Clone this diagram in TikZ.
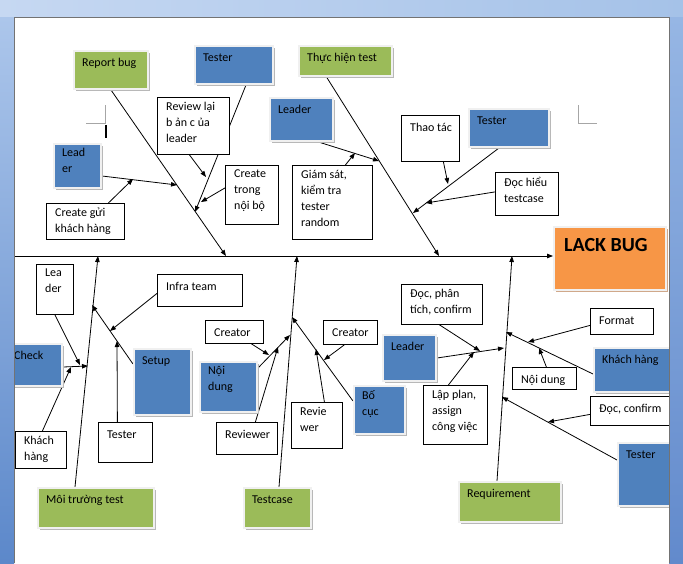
\documentclass[tikz,border=0pt]{standalone}
\usepackage{fontspec}
\setmainfont{Carlito}
\usetikzlibrary{arrows.meta, shadows}
\definecolor{wordblue}{RGB}{79,129,189}
\definecolor{wordgreen}{RGB}{155,187,89}
\definecolor{wordorange}{RGB}{247,150,70}
\definecolor{tanshadow}{RGB}{208,168,138}
\pgfdeclarelayer{paper}
\pgfdeclarelayer{lines}
\pgfsetlayers{paper,lines,main}

\begin{document}
\begin{tikzpicture}[x=1pt, y=-1pt, font=\fontsize{12}{16}\selectfont]

      \tikzset{
        sz/.style 2 args={minimum width=#1pt, minimum height=#2pt},
        bluebox/.style={draw=black!6, line width=2pt, fill=wordblue, inner sep=0pt, anchor=north west,
          general shadow={fill=black!28, shadow xshift=2pt, shadow yshift=-2pt}},
        greenbox/.style={bluebox, fill=wordgreen},
        orangebox/.style={draw=black!6, line width=2pt, fill=wordorange, inner sep=0pt, anchor=north west,
          general shadow={fill=tanshadow, shadow xshift=2pt, shadow yshift=-2pt}},
        wbox/.style={draw, line width=0.8pt, fill=white, inner sep=0pt, anchor=north west},
        txt/.style={anchor=north west, inner sep=0pt, align=left, xshift=9pt, yshift=-5pt,
          execute at begin node=\strut},
        arr/.style={-{Triangle[length=6pt, width=4.5pt]}, line width=0.8pt}}

      \useasboundingbox (0,0) rectangle (683,563);
      \begin{pgfonlayer}{paper}
        \fill[white] (14,17) rectangle (669,563);
      \end{pgfonlayer}
      % page marks
      \draw[black!35, line width=0.6pt] (86,123) -- (105,123) -- (105,105);
      \draw[black!35, line width=0.6pt] (578,105) -- (578,123) -- (597,123);
      \draw[line width=1.4pt] (106,125) -- (106,138);

%% Main causes
      	\node[greenbox, sz={74}{38}, label={[txt]north west:Report bug}] (rep) at (73,50) {};
      	\node[greenbox, sz={93}{30}, label={[txt]north west:Thực hiện test}] (exec) at (298,45) {};
      	\node[greenbox, sz={116}{40}, label={[txt]north west:Môi trường test}] (env) at (37,487) {};
      	\node[greenbox, sz={67}{40}, label={[txt]north west:Testcase}] (tcase) at (243,487) {};
      	\node[greenbox, sz={102}{40}, label={[txt]north west:Requirement}] (req) at (458,481) {};
      	\node[orangebox, sz={112}{63}, label={[txt, font=\fontsize{20}{24}\selectfont\bfseries, xshift=2pt, yshift=-3pt]north west:LACK BUG}] (bug) at (553,226) {};
%% Roles
      	\node[bluebox, sz={78}{38}, label={[txt]north west:Tester}] (tst1) at (194,45) {};
      	\node[bluebox, sz={47}{44}, label={[txt]north west:{Lead\\er}}] (lead1) at (53,143) {};
      	\node[bluebox, sz={63}{43}, label={[txt]north west:Leader}] (lead2) at (269,97) {};
      	\node[bluebox, sz={80}{38}, label={[txt]north west:Tester}] (tst2) at (468,108) {};
      	\node[bluebox, sz={56}{42}, label={[txt]north west:Check}] (chk) at (5,343) {};
      	\node[bluebox, sz={57}{66}, label={[txt]north west:Setup}] (setup) at (133,348) {};
      	\node[bluebox, sz={57}{50}, label={[txt]north west:{Nội\\dung}}] (nd1) at (199,361) {};
      	\node[bluebox, sz={51}{48}, label={[txt]north west:{Bố\\cục}}] (bc) at (353,385) {};
      	\node[bluebox, sz={53}{46}, label={[txt]north west:Leader}] (lead3) at (382,334) {};
      	\node[bluebox, sz={87}{44}, label={[txt]north west:Khách hàng}] (kh2) at (593,347) {};
      	\node[bluebox, sz={63}{63}, label={[txt]north west:Tester}] (tst3) at (617,442) {};
%% Tasks
      	\node[wbox, sz={72}{57}, label={[txt]north west:{Review lại\\b ản c ủa\\leader}}] (rv) at (157,97) {};
      	\node[wbox, sz={53}{59}, label={[txt]north west:{Create\\trong\\nội bộ}}] (ctn) at (225,165) {};
      	\node[wbox, sz={80}{74}, label={[txt]north west:{Giám sát,\\kiểm tra\\tester\\random}}] (gs) at (292,165) {};
      	\node[wbox, sz={78}{36}, label={[txt]north west:{Create gửi\\khách hàng}}] (cgk) at (46,203) {};
      	\node[wbox, sz={58}{46}, label={[txt]north west:Thao tác}] (tt) at (401,115) {};
      	\node[wbox, sz={63}{43}, label={[txt]north west:{Đọc hiểu\\testcase}}] (dh) at (495,172) {};
      	\node[wbox, sz={37}{50}, label={[txt]north west:{Lea\\der}}] (lea) at (36,264) {};
      	\node[wbox, sz={51}{37}, label={[txt]north west:{Khách\\hàng}}] (kh1) at (15,431) {};
      	\node[wbox, sz={85}{32}, label={[txt]north west:Infra team}] (infra) at (157,274) {};
      	\node[wbox, sz={54}{40}, label={[txt]north west:Tester}] (tst4) at (98,422) {};
      	\node[wbox, sz={58}{23}, label={[txt]north west:Creator}] (cr1) at (205,320) {};
      	\node[wbox, sz={61}{32}, label={[txt]north west:Reviewer}] (rw1) at (216,422) {};
      	\node[wbox, sz={54}{24}, label={[txt]north west:Creator}] (cr2) at (323,320) {};
      	\node[wbox, sz={51}{46}, label={[txt]north west:{Revie\\wer}}] (rw2) at (291,402) {};
      	\node[wbox, sz={81}{40}, label={[txt]north west:{Đọc, phân\\tích, confirm}}] (dpt) at (401,284) {};
      	\node[wbox, sz={64}{59}, label={[txt]north west:{Lập plan,\\assign\\công việc}}] (lap) at (423,385) {};
      	\node[wbox, sz={63}{26}, label={[txt]north west:Format}] (fmt) at (590,308) {};
      	\node[wbox, sz={64}{22}, label={[txt]north west:Nội dung}] (nd2) at (512,367) {};
      	\node[wbox, sz={90}{29}, label={[txt]north west:{Đọc, confirm}}] (dc) at (590,396) {};

%% Points on the bones
      	\coordinate (s0) at (14,256);
      	\coordinate (b1) at (226,256);  \coordinate (b2) at (439,256);
      	\coordinate (b3) at (98,256);   \coordinate (b4) at (297,256);  \coordinate (b5) at (512,256);
      	\coordinate (c1) at (177,185);  \coordinate (c2) at (133,179);  \coordinate (c3) at (195,212);
      	\coordinate (c4) at (206,177);  \coordinate (c5) at (201,202);  \coordinate (c6) at (379,161);
      	\coordinate (c7) at (355,153);  \coordinate (c8) at (413,213);  \coordinate (c9) at (426,203);
      	\coordinate (c10) at (448,184); \coordinate (c11) at (88,366);  \coordinate (c12) at (80,365);
      	\coordinate (c13) at (71,367);  \coordinate (c14) at (92,305);  \coordinate (c15) at (110,331);
      	\coordinate (c16) at (117,341); \coordinate (c17) at (290,335); \coordinate (c18) at (269,355);
      	\coordinate (c19) at (278,347); \coordinate (c20) at (292,317); \coordinate (c21) at (324,360);
      	\coordinate (c22) at (316,349); \coordinate (c23) at (504,348); \coordinate (c24) at (480,351);
      	\coordinate (c25) at (474,352); \coordinate (c26) at (506,332); \coordinate (c27) at (528,342);
      	\coordinate (c28) at (539,348); \coordinate (c29) at (502,397); \coordinate (c30) at (548,422);

%Bones
      \begin{pgfonlayer}{lines}
		\draw [arr] (s0) -- (s0 -| bug.west);
		\draw [arr] (rep.south) -- (b1);
		\draw [arr] ([xshift=-19pt]exec.south) -- (b2);
		\draw [arr] ([xshift=-21pt]env.north) -- (b3);
		\draw [arr] ([xshift=1.5pt]tcase.north) -- (b4);
		\draw [arr] ([xshift=-13pt]req.north) -- (b5);
%Branches
		\draw [arr] ([yshift=-10pt]lead1.east) -- (c1);
		\draw [arr] ([xshift=23pt]cgk.north) -- (c2);
		\draw [arr] ([xshift=12pt]tst1.south) -- (c3);
		\draw [arr] ([xshift=-4pt]rv.south) -- (c4);
		\draw [arr] ([yshift=7pt]ctn.west) -- (c5);
		\draw [arr] ([xshift=17pt]lead2.south) -- (c6);
		\draw [arr] ([xshift=13pt]gs.north) -- (c7);
		\draw [arr] ([xshift=-10pt]tst2.south) -- (c8);
		\draw [arr] ([yshift=2pt]dh.west) -- (c9);
		\draw [arr] ([xshift=13pt]tt.south) -- (c10);
		\draw [arr] ([yshift=-2pt]chk.east) -- (c11);
		\draw [arr] (lea.south) -- (c12);
		\draw [arr] ([xshift=1.5pt]kh1.north) -- (c13);
		\draw [arr] ([yshift=18pt]setup.west) -- (c14);
		\draw [arr] ([yshift=-3pt]infra.west) -- (c15);
		\draw [arr] ([xshift=-8pt]tst4.north) -- (c16);
		\draw [arr] ([yshift=-7pt]nd1.north east) -- (c17);
		\draw [arr] ([xshift=17pt]cr1.south) -- (c18);
		\draw [arr] ([xshift=8.5pt]rw1.north) -- (c19);
		\draw [arr] ([yshift=9pt]bc.west) -- (c20);
		\draw [arr] ([xshift=-6pt]cr2.south) -- (c21);
		\draw [arr] ([xshift=7.5pt]rw2.north) -- (c22);
		\draw [arr] (lead3.east) -- (c23);
		\draw [arr] ([xshift=-2.5pt]dpt.south) -- (c24);
		\draw [arr] ([xshift=-7pt]lap.north) -- (c25);
		\draw [arr] ([yshift=-4pt]kh2.west) -- (c26);
		\draw [arr] ([yshift=-4pt]fmt.west) -- (c27);
		\draw [arr] ([xshift=2pt]nd2.north) -- (c28);
		\draw [arr] ([yshift=14.5pt]tst3.west) -- (c29);
		\draw [arr] ([yshift=-3.5pt]dc.west) -- (c30);
      \end{pgfonlayer}

      % window frame
      \shade[left color={rgb,255:red,198;green,216;blue,242}, right color={rgb,255:red,165;green,194;blue,232}] (0,0) rectangle (683,17);
      \shade[top color={rgb,255:red,172;green,198;blue,235}, bottom color={rgb,255:red,92;green,136;blue,202}] (0,17) rectangle (14,563);
      \shade[top color={rgb,255:red,150;green,182;blue,228}, bottom color={rgb,255:red,98;green,138;blue,204}] (669,17) rectangle (683,563);
      \draw[black!55, line width=0.8pt] (14,563) |- (669,17) -- (669,563);

	\end{tikzpicture}
\end{document}
